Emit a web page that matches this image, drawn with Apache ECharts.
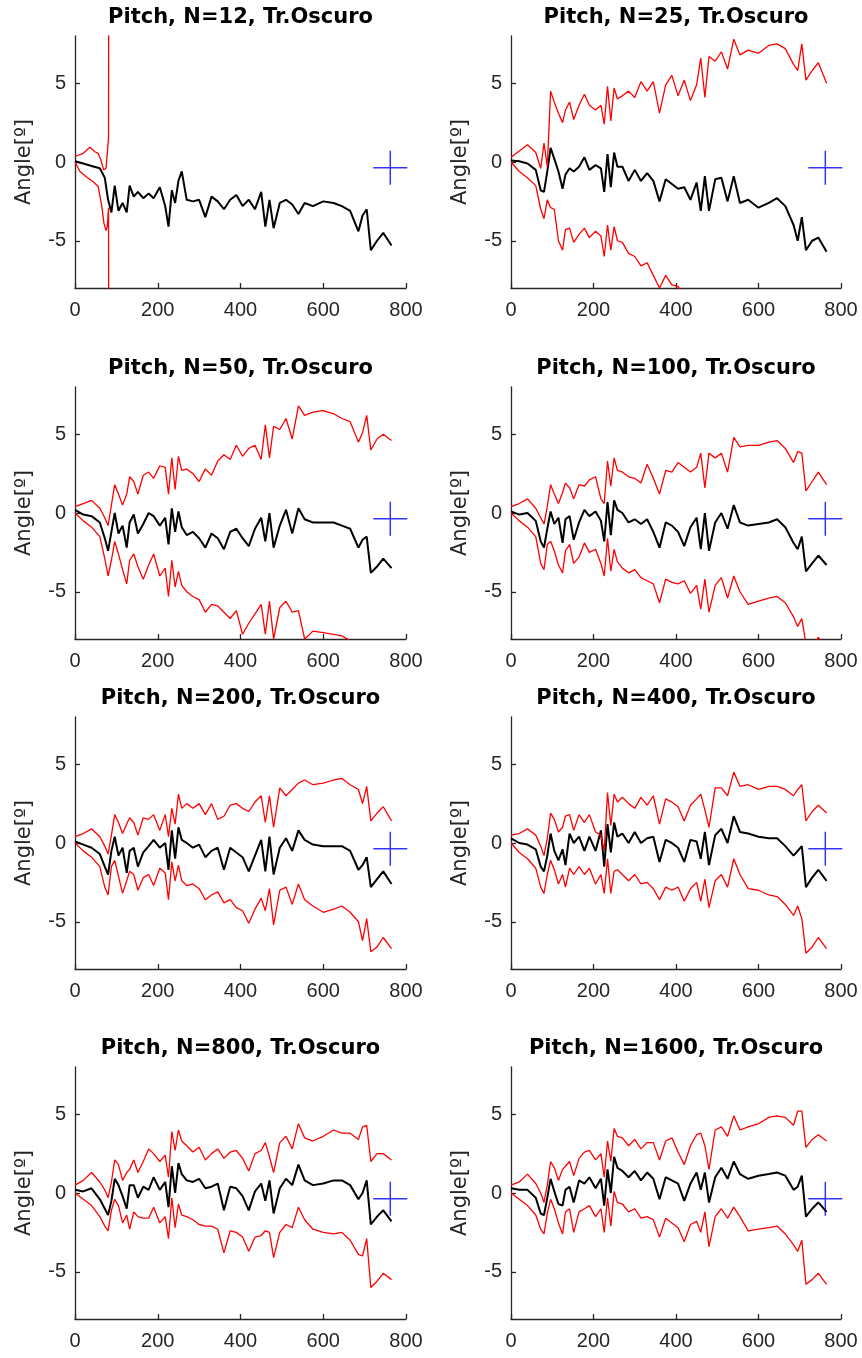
<!DOCTYPE html>
<html>
<head>
<meta charset="utf-8">
<script src="https://cdn.jsdelivr.net/npm/echarts@6/dist/echarts.min.js"></script>
<style>
  html, body { margin: 0; padding: 0; background: #fff; }
  #chart { width: 862px; height: 1358px; }
</style>
</head>
<body>
<div id="chart"></div>
<script>
// common sample positions (time index) shared by every panel
const xs = [
  0, 20, 40, 60, 72, 80, 88, 96, 105, 115,
  125, 132, 142, 152, 165, 178, 190, 205, 218, 226,
  234, 242, 250, 258, 270, 285, 300, 315, 330, 345,
  360, 375, 390, 405, 420, 435, 450, 460, 470, 480,
  495, 510, 525, 540, 555, 575, 600, 625, 645, 665,
  685, 695, 705, 715, 730, 745, 765
];

const titles = [
  'Pitch, N=12, Tr.Oscuro', 'Pitch, N=25, Tr.Oscuro',
  'Pitch, N=50, Tr.Oscuro', 'Pitch, N=100, Tr.Oscuro',
  'Pitch, N=200, Tr.Oscuro', 'Pitch, N=400, Tr.Oscuro',
  'Pitch, N=800, Tr.Oscuro', 'Pitch, N=1600, Tr.Oscuro'
];

const yTicks = [-5, 0, 5];
const plusPoint = [762, -0.37];

// N=12 : the bounds diverge right after the start, own x positions
const n12UpperX = [0, 20, 36, 48, 56, 63, 69, 75, 81, 83, 85];
const n12Upper = [0.35, 0.55, 0.93, 0.65, 0.55, 0.1, -0.5, -0.4, 1.5, 1.6, 80];
const n12LowerX = [0, 12, 28, 44, 56, 65, 70, 75, 78, 81, 85];
const n12Lower = [0, -0.6, -0.95, -1.25, -1.55, -2.85, -3.9, -4.35, -4.1, -2.9, -80];
const n12Black = [
  0.05, -0.1, -0.25, -0.4, -1.0, -2.4, -3.2, -1.5, -3.1, -2.6,
  -3.2, -1.5, -2.2, -1.9, -2.3, -2.0, -2.3, -1.6, -2.8, -4.1,
  -1.8, -2.6, -1.2, -0.6, -2.4, -2.5, -2.4, -3.5, -2.2, -2.5,
  -3.0, -2.4, -2.1, -2.8, -2.4, -3.0, -1.9, -4.1, -2.4, -4.2,
  -2.6, -2.4, -2.7, -3.3, -2.6, -2.8, -2.5, -2.6, -2.8, -3.1,
  -4.4, -3.4, -3.0, -5.6, -5.0, -4.5, -5.3
];

const n25Black = [
  0.1, 0.05, -0.1, -0.5, -1.8, -1.9, -0.6, 0.9, 0.2, -0.6,
  -1.7, -0.8, -0.4, -0.6, -0.3, 0.3, -0.5, -0.2, -0.4, -1.9,
  0.5, -1.6, 0.6, -0.3, -0.3, -1.2, -0.5, -1.2, -0.7, -1.2,
  -2.5, -1.1, -1.4, -1.7, -1.6, -2.4, -1.3, -3.1, -0.9, -3.1,
  -1.1, -1.0, -2.5, -0.9, -2.6, -2.4, -2.9, -2.6, -2.3, -2.8,
  -4.0, -5.0, -3.5, -5.6, -5.0, -4.8, -5.7
];
const n25Upper = [
  0.3, 0.7, 1.1, 0.6, -0.4, 1.2, -0.3, 4.5, 3.8, 3.1,
  2.5, 3.3, 3.8, 2.7, 3.6, 4.3, 3.6, 3.3, 3.6, 2.4,
  4.8, 2.6, 4.7, 4.0, 4.2, 4.5, 4.1, 5.1, 4.5, 5.1,
  3.1, 4.9, 5.5, 4.2, 5.2, 3.9, 4.9, 6.6, 4.1, 6.7,
  6.4, 7.0, 5.9, 7.8, 6.8, 7.1, 6.9, 7.4, 7.5, 7.2,
  6.2, 5.8, 7.5, 5.2, 5.8, 6.3, 5.0
];
const n25Lower = [
  0.0, -0.6, -1.0, -1.5, -3.0, -3.6, -2.4, -2.9, -3.0, -5.0,
  -5.6, -4.3, -4.2, -5.1, -4.6, -4.2, -4.8, -4.4, -4.7, -6.0,
  -4.0, -5.6, -4.1, -5.0, -5.1, -5.8, -6.0, -6.6, -6.4, -7.2,
  -8.0, -7.2, -7.8, -7.9, -8.5, -8.8, -9.0, -9.8, -8.9, -10,
  -9.5, -9.3, -10, -9.6, -10.5, -10.6, -10.8, -10.9, -11, -11.4,
  -12.2, -12.8, -12, -14, -13.6, -13.2, -14
];

const n50Black = [
  0.2, -0.1, -0.2, -0.6, -1.6, -2.4, -1.2, 0.0, -1.3, -0.8,
  -2.2, -0.6, -0.1, -1.3, -0.7, 0.0, -0.2, -0.8, -0.3, -2.0,
  0.3, -1.2, 0.1, -0.9, -1.4, -1.2, -1.6, -2.2, -1.3, -1.6,
  -2.3, -1.2, -1.0, -1.6, -2.1, -1.0, -0.3, -1.8, 0.0, -2.2,
  -0.8, 0.2, -1.3, 0.3, -0.4, -0.6, -0.6, -0.6, -0.8, -1.0,
  -2.2, -1.7, -1.5, -3.8, -3.4, -2.9, -3.5
];
const n50Upper = [
  0.4, 0.6, 0.8, 0.3, -0.3, -0.8, 0.5, 1.8, 1.2, 0.5,
  1.2, 2.3, 2.0, 1.2, 2.4, 2.6, 2.2, 3.0, 2.9, 1.2,
  3.5, 1.5, 3.6, 2.7, 2.8, 2.5, 2.0, 2.8, 2.4, 3.3,
  3.7, 3.4, 4.3, 3.6, 4.1, 4.3, 3.4, 5.6, 3.5, 5.5,
  5.3, 6.0, 4.7, 6.8, 6.2, 6.4, 6.5, 6.3, 6.0, 5.8,
  4.5, 5.1, 6.2, 4.0, 4.7, 5.0, 4.6
];
const n50Lower = [
  0.0, -0.5, -0.9, -1.5, -2.9, -4.0, -3.0, -1.8, -2.6, -3.6,
  -4.5, -3.0, -2.6, -3.4, -4.2, -3.3, -2.6, -4.0, -3.5, -5.3,
  -3.0, -4.7, -3.7, -4.6, -5.0, -5.3, -5.5, -6.3, -5.8, -5.9,
  -6.3, -6.7, -6.2, -7.7, -7.0, -6.4, -5.8, -7.7, -5.6, -8.0,
  -6.0, -5.6, -6.3, -6.2, -8.0, -7.5, -7.6, -7.7, -7.8, -8.1,
  -8.8, -9.2, -8.7, -10.6, -10.2, -9.8, -10.3
];

const n100Black = [
  0.1, -0.1, 0.0, -0.5, -1.8, -2.2, -1.0, 0.1, -0.7, -0.3,
  -1.9, -0.4, -0.2, -1.7, -0.6, 0.2, -0.2, 0.1, -0.5, -1.8,
  0.7, -1.4, 0.8, 0.2, 0.0, -0.6, -0.4, -0.7, -0.4, -1.2,
  -2.2, -0.6, -0.8, -1.2, -2.1, -0.9, -0.3, -2.3, 0.0, -2.4,
  -0.6, 0.0, -1.0, 0.5, -0.6, -0.8, -0.7, -0.6, -0.4, -0.9,
  -1.9, -2.3, -1.5, -3.7, -3.2, -2.7, -3.3
];
const n100Upper = [
  0.4, 0.6, 0.9, 0.3, -0.3, -0.7, 0.4, 1.8, 1.2, 0.6,
  1.3, 1.9, 1.6, 0.9, 1.8, 1.7, 2.1, 2.3, 0.9, 0.6,
  3.3, 1.7, 3.5, 2.7, 2.6, 2.3, 2.2, 1.9, 3.1, 2.2,
  1.2, 2.7, 2.6, 3.2, 2.9, 2.6, 2.9, 3.8, 1.6, 3.8,
  3.5, 3.8, 2.6, 4.8, 4.2, 4.3, 4.3, 4.5, 4.6, 4.1,
  3.2, 3.9, 3.8, 1.4, 2.0, 2.6, 1.8
];
const n100Lower = [
  0.0, -0.5, -0.9, -1.5, -3.2, -3.6, -2.0, -1.8, -2.4, -3.3,
  -3.8, -2.4, -2.0, -3.2, -2.8, -1.9, -2.5, -2.3, -3.2, -4.0,
  -1.6, -3.7, -2.3, -3.1, -3.5, -3.8, -3.6, -4.1, -4.3, -4.5,
  -5.7, -4.2, -4.4, -4.5, -4.3, -5.1, -4.6, -6.1, -4.2, -6.3,
  -4.6, -4.1, -5.4, -4.0, -5.0, -5.8, -5.6, -5.4, -5.3, -5.7,
  -6.6, -7.2, -6.7, -8.3, -8.5, -7.9, -8.6
];

const n200Black = [
  0.1, -0.1, -0.3, -0.7, -1.5, -2.0, -0.5, 0.4, -0.8, -0.3,
  -1.9, -0.5, -0.3, -1.5, -0.6, -0.2, 0.2, -0.3, 0.0, -1.7,
  0.8, -1.0, 1.0, 0.2, 0.0, -0.3, -0.1, -0.9, -0.5, -0.3,
  -1.7, -0.3, -0.6, -0.9, -1.8, -0.8, 0.2, -1.8, 0.4, -2.0,
  -0.3, 0.3, -0.5, 0.8, 0.2, -0.1, -0.2, -0.2, -0.2, -0.5,
  -1.7, -1.4, -0.9, -2.8, -2.3, -1.8, -2.6
];
const n200Upper = [
  0.4, 0.6, 0.9, 0.4, -0.2, -0.7, 0.5, 1.8, 1.3, 0.6,
  1.2, 1.6, 1.3, 0.5, 1.6, 1.5, 1.8, 0.8, 1.8, 0.4,
  2.2, 1.2, 3.1, 2.2, 2.5, 2.2, 2.5, 1.8, 2.5, 1.5,
  1.7, 2.4, 2.5, 2.2, 2.0, 2.6, 3.0, 1.3, 3.0, 1.0,
  3.5, 3.0, 3.4, 3.8, 4.0, 3.7, 3.8, 4.0, 4.1, 3.7,
  3.4, 2.5, 3.6, 1.4, 1.9, 2.3, 1.4
];
const n200Lower = [
  0.0, -0.5, -0.9, -1.5, -2.8, -3.3, -1.5, -1.1, -2.1, -3.2,
  -2.4, -1.8, -2.0, -3.0, -2.2, -2.0, -2.7, -1.6, -1.9, -3.6,
  -1.2, -2.4, -1.4, -2.4, -2.7, -2.6, -2.9, -3.6, -3.3, -3.1,
  -3.8, -3.6, -4.1, -4.3, -5.1, -4.2, -3.5, -4.3, -2.9, -5.2,
  -3.0, -2.8, -3.9, -2.6, -3.6, -4.0, -4.4, -4.2, -4.0, -4.4,
  -5.0, -6.2, -4.8, -6.9, -6.6, -6.0, -6.7
];

const n400Black = [
  0.3, 0.0, -0.1, -0.4, -1.5, -1.8, -0.8, 0.6, -0.5, -1.1,
  -0.4, -1.4, 0.6, 0.0, 0.4, -0.5, 0.4, -0.5, 0.8, -1.5,
  1.2, -0.6, 1.3, 0.4, 0.6, 0.0, 0.7, 0.0, 0.3, 0.4,
  -1.2, 0.2, 0.0, -0.3, -1.2, 0.2, 0.1, -1.0, 0.7, -1.4,
  0.5, 0.9, 0.0, 1.7, 0.7, 0.6, 0.4, 0.3, 0.3, -0.2,
  -0.8, -0.5, -0.2, -2.8, -2.2, -1.7, -2.4
];
const n400Upper = [
  0.5, 0.6, 0.9, 0.5, -0.2, -0.8, 0.3, 1.9, 1.5, 0.7,
  1.0, 1.7, 1.8, 0.8, 1.8, 1.3, 1.8, 0.7, 0.5, -0.5,
  3.2, 1.1, 3.1, 2.6, 2.9, 2.5, 2.2, 2.9, 2.4, 3.0,
  1.2, 2.8, 2.6, 2.3, 1.4, 2.4, 2.8, 3.1, 2.1, 1.0,
  3.5, 3.5, 3.0, 4.5, 3.6, 3.7, 3.4, 3.6, 3.6, 3.4,
  3.0, 3.4, 3.7, 1.4, 2.0, 2.4, 1.9
];
const n400Lower = [
  0.0, -0.6, -1.0, -1.6, -2.8, -3.2, -2.0, -1.1, -1.7, -2.6,
  -2.0, -2.8, -1.6, -2.0, -1.5, -2.0, -1.6, -2.6, -2.0, -3.2,
  -1.0, -3.2, -1.8, -1.7, -2.0, -2.4, -2.0, -2.6, -2.5, -2.9,
  -3.6, -2.8, -3.0, -2.8, -3.7, -2.9, -2.5, -3.7, -2.3, -4.1,
  -2.4, -2.0, -2.8, -1.0, -2.0, -2.9, -3.0, -3.3, -3.4, -3.9,
  -4.6, -4.0, -4.8, -7.0, -6.6, -6.0, -6.7
];

const n800Black = [
  0.2, 0.1, 0.3, -0.4, -1.0, -1.4, -0.5, 0.9, 0.5, -0.2,
  -1.0, 0.5, 0.5, -0.3, 0.4, 0.2, 1.0, 0.2, 0.7, -0.9,
  1.7, 0.0, 1.9, 1.2, 0.8, 0.7, 0.9, 0.3, 0.4, 0.6,
  -1.1, 0.4, 0.3, -0.2, -1.1, 0.1, 0.6, -0.5, 0.8, -1.3,
  0.3, 0.9, 0.5, 1.8, 0.8, 0.5, 0.6, 0.8, 0.8, 0.5,
  -0.4, 0.0, 0.8, -2.0, -1.5, -1.1, -1.8
];
const n800Upper = [
  0.5, 0.8, 1.3, 0.7, 0.2, -0.3, 0.7, 2.1, 1.8, 0.8,
  1.3, 1.5, 2.1, 1.3, 2.0, 2.8, 2.5, 2.0, 2.4, 1.0,
  3.9, 2.7, 4.0, 3.3, 3.0, 2.6, 2.9, 2.1, 2.5, 2.8,
  2.2, 2.6, 2.7, 2.2, 1.4, 2.5, 2.7, 3.2, 2.3, 1.3,
  3.2, 3.6, 2.8, 4.4, 3.5, 3.3, 3.6, 4.0, 3.8, 3.8,
  3.4, 4.2, 4.3, 2.0, 2.5, 2.5, 2.1
];
const n800Lower = [
  0.0, -0.4, -0.8, -1.5, -2.1, -2.4, -1.1, -0.4, -0.8, -1.9,
  -1.4, -2.3, -1.2, -1.5, -1.6, -1.6, -0.9, -1.9, -1.5, -2.9,
  -0.3, -2.2, -0.7, -1.4, -1.5, -1.7, -2.0, -2.1, -2.1, -2.3,
  -3.8, -2.4, -2.5, -2.8, -3.7, -2.8, -2.7, -2.4, -2.5, -4.1,
  -2.5, -2.0, -2.2, -0.9, -1.7, -2.3, -2.5, -2.6, -2.5, -3.0,
  -3.9, -4.0, -2.9, -6.0, -5.6, -5.1, -5.5
];

const n1600Black = [
  0.3, 0.2, 0.2, -0.3, -1.3, -1.4, -0.3, 0.9, 0.1, -0.7,
  -0.8, 0.2, 0.4, -0.6, 0.8, 0.6, 1.0, 0.3, 0.9, -0.8,
  1.5, 0.0, 2.3, 1.6, 1.4, 1.0, 1.4, 0.8, 1.3, 0.9,
  -0.4, 1.0, 0.8, 0.6, -0.5, 0.6, 1.3, 0.2, 1.3, -0.6,
  1.0, 1.6, 0.9, 2.0, 1.2, 0.9, 1.1, 1.2, 1.3, 1.1,
  0.2, 0.4, 1.1, -1.5, -1.0, -0.6, -1.2
];
const n1600Upper = [
  0.5, 0.7, 1.2, 0.6, 0.0, -0.6, 0.5, 2.0, 1.6, 0.8,
  1.5, 1.7, 2.0, 1.1, 2.2, 2.6, 2.7, 2.1, 2.5, 1.0,
  3.3, 2.0, 4.1, 3.6, 3.5, 3.0, 3.4, 2.8, 3.2, 3.2,
  2.1, 3.3, 3.5, 2.6, 1.8, 3.0, 3.7, 3.8, 3.0, 1.5,
  4.0, 4.2, 3.6, 4.9, 4.0, 4.2, 4.4, 4.8, 4.9, 4.8,
  4.3, 5.2, 5.2, 2.9, 3.4, 3.7, 3.3
];
const n1600Lower = [
  0.0, -0.4, -0.8, -1.4, -2.3, -2.6, -1.3, -0.4, -1.0, -1.9,
  -2.6, -1.2, -1.0, -2.5, -1.2, -1.0, -0.8, -1.5, -1.0, -2.5,
  -0.3, -2.1, 0.1, -0.6, -0.7, -1.2, -1.0, -1.6, -1.5, -1.7,
  -2.8, -1.6, -1.9, -2.2, -3.1, -2.0, -1.8, -2.5, -1.2, -3.4,
  -1.5, -1.0, -1.6, -0.9, -1.5, -2.4, -2.3, -2.2, -2.1, -2.6,
  -3.3, -3.7, -3.0, -5.8, -5.5, -5.1, -5.8
];

const pairs = (x, y) => x.map((v, i) => [v, y[i]]);

const panels = [
  { black: pairs(xs, n12Black), upper: pairs(n12UpperX, n12Upper), lower: pairs(n12LowerX, n12Lower) },
  { black: pairs(xs, n25Black), upper: pairs(xs, n25Upper), lower: pairs(xs, n25Lower) },
  { black: pairs(xs, n50Black), upper: pairs(xs, n50Upper), lower: pairs(xs, n50Lower) },
  { black: pairs(xs, n100Black), upper: pairs(xs, n100Upper), lower: pairs(xs, n100Lower) },
  { black: pairs(xs, n200Black), upper: pairs(xs, n200Upper), lower: pairs(xs, n200Lower) },
  { black: pairs(xs, n400Black), upper: pairs(xs, n400Upper), lower: pairs(xs, n400Lower) },
  { black: pairs(xs, n800Black), upper: pairs(xs, n800Upper), lower: pairs(xs, n800Lower) },
  { black: pairs(xs, n1600Black), upper: pairs(xs, n1600Upper), lower: pairs(xs, n1600Lower) }
];

const rowTops = [36, 387, 717, 1067];
const colLefts = [75, 511];
const colWidths = [331, 330];
const plotHeight = 252;
const axisColor = '#262626';
const tickFont = 'Liberation Sans, Arial, sans-serif';

const grid = [], xAxis = [], yAxis = [], title = [], series = [];

panels.forEach((p, i) => {
  const row = Math.floor(i / 2), col = i % 2;
  const left = colLefts[col], width = colWidths[col], top = rowTops[row];
  grid.push({ left: left, top: top, width: width, height: plotHeight });
  title.push({
    text: titles[i],
    left: left + width / 2,
    top: top - 29,
    textAlign: 'center',
    padding: 0,
    textStyle: { fontFamily: 'DejaVu Sans', fontWeight: 'bold', fontSize: 21, color: '#000' }
  });
  xAxis.push({
    type: 'value', gridIndex: i, min: 0, max: 800, interval: 200,
    axisLine: { show: true, onZero: false, lineStyle: { color: axisColor, width: 1.3 } },
    axisTick: { show: true, inside: true, length: 5, lineStyle: { color: axisColor, width: 1.3 } },
    axisLabel: { fontSize: 20, color: axisColor, fontFamily: tickFont, margin: 12 },
    splitLine: { show: false }
  });
  yAxis.push({
    type: 'value', gridIndex: i, min: -8, max: 8,
    name: 'Angle[º]', nameLocation: 'middle', nameGap: 40,
    nameTextStyle: { fontSize: 21, color: axisColor, fontFamily: 'DejaVu Sans' },
    axisLine: { show: true, onZero: false, lineStyle: { color: axisColor, width: 1.3 } },
    axisTick: { show: true, inside: true, length: 5, customValues: yTicks, lineStyle: { color: axisColor, width: 1.3 } },
    axisLabel: { fontSize: 20, color: axisColor, fontFamily: tickFont, margin: 9, customValues: yTicks },
    splitLine: { show: false }
  });
  series.push({
    type: 'line', xAxisIndex: i, yAxisIndex: i, data: p.black,
    showSymbol: false, clip: true, lineStyle: { color: '#000', width: 2 }
  });
  series.push({
    type: 'line', xAxisIndex: i, yAxisIndex: i, data: p.upper,
    showSymbol: false, clip: true, lineStyle: { color: '#ff0000', width: 1.3 }
  });
  series.push({
    type: 'line', xAxisIndex: i, yAxisIndex: i, data: p.lower,
    showSymbol: false, clip: true, lineStyle: { color: '#ff0000', width: 1.3 }
  });
  series.push({
    type: 'scatter', xAxisIndex: i, yAxisIndex: i, data: [plusPoint],
    symbol: 'path://M10 0L10 20M0 10L20 10', symbolSize: 34,
    itemStyle: { color: 'transparent', borderColor: '#0000ff', borderWidth: 1.5 }
  });
});

const chart = echarts.init(document.getElementById('chart'));
chart.setOption({
  animation: false,
  backgroundColor: '#fff',
  title: title,
  grid: grid,
  xAxis: xAxis,
  yAxis: yAxis,
  series: series
});
</script>
</body>
</html>
